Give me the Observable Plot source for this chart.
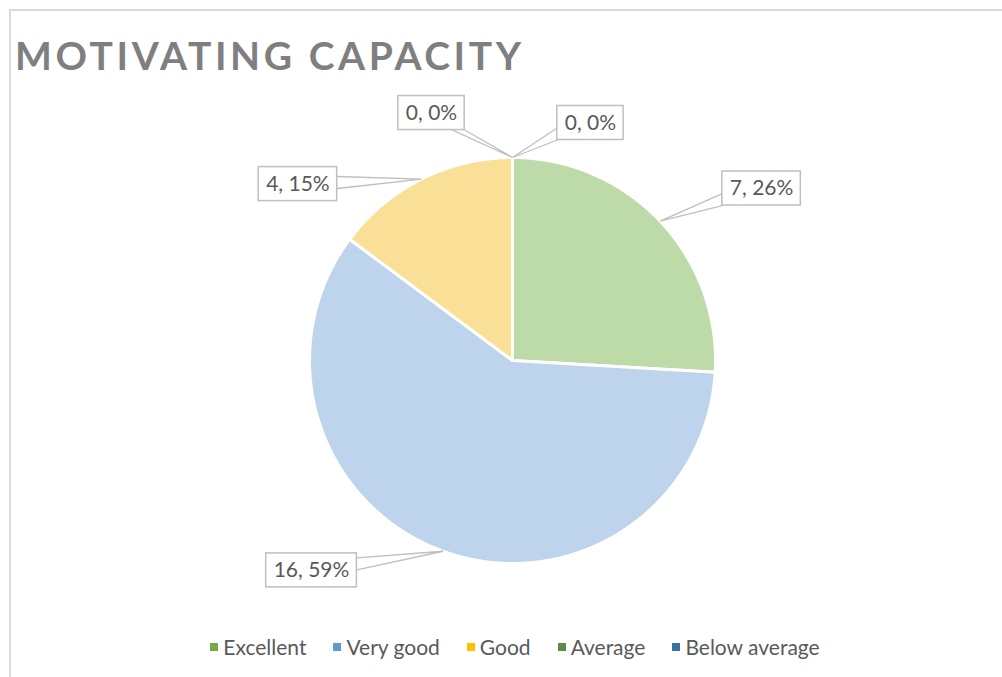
<!DOCTYPE html>
<html><head><meta charset="utf-8">
<script src="https://cdn.jsdelivr.net/npm/d3@7"></script>
<script src="https://cdn.jsdelivr.net/npm/@observablehq/plot@0.6"></script>
<style>
html,body{margin:0;padding:0;background:#fff;width:1002px;height:677px;overflow:hidden;}
#chart{position:absolute;left:0;top:0;}
#frame{position:absolute;left:9px;top:9px;width:1000px;height:680px;border-left:2px solid #d9d9d9;border-top:2px solid #d9d9d9;pointer-events:none;}
#title{position:absolute;left:15px;top:36px;font-family:Lato,sans-serif;font-weight:700;font-size:39px;line-height:39px;color:#7f7f7f;white-space:nowrap;}
#legend{position:absolute;left:0;top:636px;width:1030px;display:flex;justify-content:center;font-family:Lato,sans-serif;font-size:21px;color:#595959;line-height:22px;}
.item{display:flex;align-items:center;margin:0 13.5px;}
.sw{width:8px;height:8px;margin-right:5px;}
</style></head><body>
<div id="chart"></div>
<div id="frame"></div>
<div id="title">MOTIVATING CAPACITY</div>
<div id="legend"></div>
<script>
// ---- data ----
const categories = ["Excellent", "Very good", "Good", "Average", "Below average"];
const counts = [7, 16, 4, 0, 0];

// ---- styles / layout ----
const sliceFills = ["#bddaa9", "#bed4ed", "#fadf97", "#a9c49a", "#9bb8d8"];
const legendColors = ["#70ad47", "#5b9bd5", "#ffc000", "#5f8a45", "#3a6fa8"];
// label box centres relative to pie centre, in radius units
const labelOffsets = [[1.227, -0.847], [-0.990, 1.034], [-1.057, -0.869], [-0.399, -1.219], [0.384, -1.170]];

const W = 1002, H = 677, CX = 512, CY = 360, R = 203;
const total = d3.sum(counts);
const arcs = d3.pie().sort(null).value(d => d)(counts);

const slices = arcs.map((a) => {
  const a0 = a.startAngle, a1 = a.endAngle;
  if (a1 - a0 <= 0) return null;
  const n = Math.max(2, Math.ceil((a1 - a0) / 0.01));
  const pts = [{x: 0, y: 0}];
  for (let k = 0; k <= n; k++) {
    const t = a0 + (a1 - a0) * k / n;
    pts.push({x: Math.sin(t), y: -Math.cos(t)});
  }
  pts.push({x: 0, y: 0});
  return pts;
});

const ctx = document.createElement("canvas").getContext("2d");
ctx.font = "21px Lato";
const BH = 34;
const labels = arcs.map((a, i) => {
  const text = `${counts[i]}, ${Math.round(counts[i] / total * 100)}%`;
  const w = ctx.measureText(text).width + 15;
  const hw = w / 2 / R, hh = BH / 2 / R;
  const [cx, cy] = labelOffsets[i];
  const m = (a.startAngle + a.endAngle) / 2;
  const tx = Math.sin(m), ty = -Math.cos(m);
  const dx = tx - cx, dy = ty - cy;
  const s = 6 / R;
  let b1, b2;
  if (Math.abs(dx) / hw > Math.abs(dy) / hh) {
    const ex = cx + Math.sign(dx) * hw;
    let ey = cy + dy * (hw / Math.abs(dx));
    ey = Math.max(cy - hh + s, Math.min(cy + hh - s, ey));
    b1 = {x: ex, y: ey - s}; b2 = {x: ex, y: ey + s};
  } else {
    const ey = cy + Math.sign(dy) * hh;
    let ex = cx + dx * (hh / Math.abs(dy));
    ex = Math.max(cx - hw + s, Math.min(cx + hw - s, ex));
    b1 = {x: ex - s, y: ey}; b2 = {x: ex + s, y: ey};
  }
  return {text, cx, cy, x1: cx - hw, x2: cx + hw, y1: cy - hh, y2: cy + hh, tip: {x: tx, y: ty}, b1, b2};
});

const marks = [];
slices.forEach((pts, i) => {
  if (pts) marks.push(Plot.line(pts, {x: "x", y: "y", fill: sliceFills[i], stroke: "#ffffff", strokeWidth: 3, strokeLinejoin: "round", curve: "linear"}));
});
labels.forEach(l => {
  marks.push(Plot.line([l.b1, l.tip, l.b2], {x: "x", y: "y", fill: "#ffffff", stroke: "#bfbfbf", strokeWidth: 1.3, strokeLinejoin: "miter"}));
});
marks.push(Plot.rect(labels, {x1: "x1", x2: "x2", y1: "y1", y2: "y2", fill: "#ffffff", stroke: "#bfbfbf", strokeWidth: 1.5}));
marks.push(Plot.text(labels, {x: "cx", y: "cy", text: "text", fontSize: 21, fill: "#595959", fontFamily: "Lato"}));

const chart = Plot.plot({
  width: W, height: H, margin: 0,
  style: {background: "transparent"},
  x: {domain: [-CX / R, (W - CX) / R], range: [0, W], axis: null},
  y: {domain: [-CY / R, (H - CY) / R], range: [0, H], axis: null},
  marks
});
document.getElementById("chart").appendChild(chart);

// title letter-spacing to fit width
const title = document.getElementById("title");
ctx.font = "bold 39px Lato";
const tw = ctx.measureText(title.textContent).width;
title.style.letterSpacing = ((506 - tw) / 18) + "px";

// legend
const legend = document.getElementById("legend");
categories.forEach((c, i) => {
  const it = document.createElement("div"); it.className = "item";
  const sw = document.createElement("div"); sw.className = "sw"; sw.style.background = legendColors[i];
  const tx = document.createElement("span"); tx.textContent = c;
  it.appendChild(sw); it.appendChild(tx); legend.appendChild(it);
});
</script></body></html>
